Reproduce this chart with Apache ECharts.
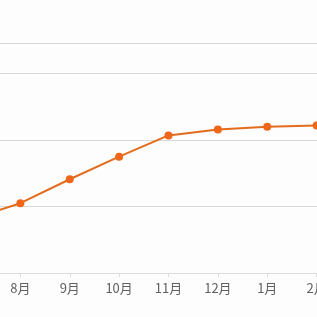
<!DOCTYPE html>
<html>
<head>
<meta charset="utf-8">
<script src="https://cdn.jsdelivr.net/npm/echarts@6/dist/echarts.min.js"></script>
<style>
  html, body { margin: 0; padding: 0; background: #fdfdfd; overflow: hidden; }
  #main { position: absolute; left: -100px; top: 0; width: 517px; height: 317px; }
</style>
</head>
<body>
<div id="main"></div>
<script>
// 月份
const months = ['7月', '8月', '9月', '10月', '11月', '12月', '1月', '2月', '3月'];
// 数值（3月在画面外）
const values = [8.1, 10.5, 14.1, 17.5, 20.7, 21.6, 22.0, 22.2, 22.3];

let myChart = echarts.init(document.getElementById('main'));
myChart.setOption({
  animation: false,
  backgroundColor: '#fdfdfd',
  grid: {
    left: 71,
    top: 43,
    width: 395,
    height: 230
  },
  xAxis: {
    type: 'category',
    boundaryGap: false,
    data: months,
    axisLine: {
      lineStyle: { color: '#dcdcdc', width: 1 }
    },
    axisTick: {
      show: true,
      length: 4,
      lineStyle: { color: '#dcdcdc' }
    },
    axisLabel: {
      color: '#5f5f5f',
      fontSize: 13,
      margin: 9,
      fontFamily: 'Noto Sans CJK SC'
    },
    splitLine: { show: false }
  },
  yAxis: {
    type: 'value',
    min: 0,
    max: 34.6,
    interval: 10,
    axisLine: { show: false },
    axisTick: { show: false },
    axisLabel: { show: false },
    splitLine: {
      show: true,
      lineStyle: { color: '#d9d9d9', width: 1 }
    }
  },
  series: [{
    type: 'line',
    data: values,
    symbol: 'circle',
    symbolSize: 8,
    lineStyle: { color: '#e36c1c', width: 2 },
    itemStyle: { color: '#f0661a' }
  }]
});
</script>
</body>
</html>
